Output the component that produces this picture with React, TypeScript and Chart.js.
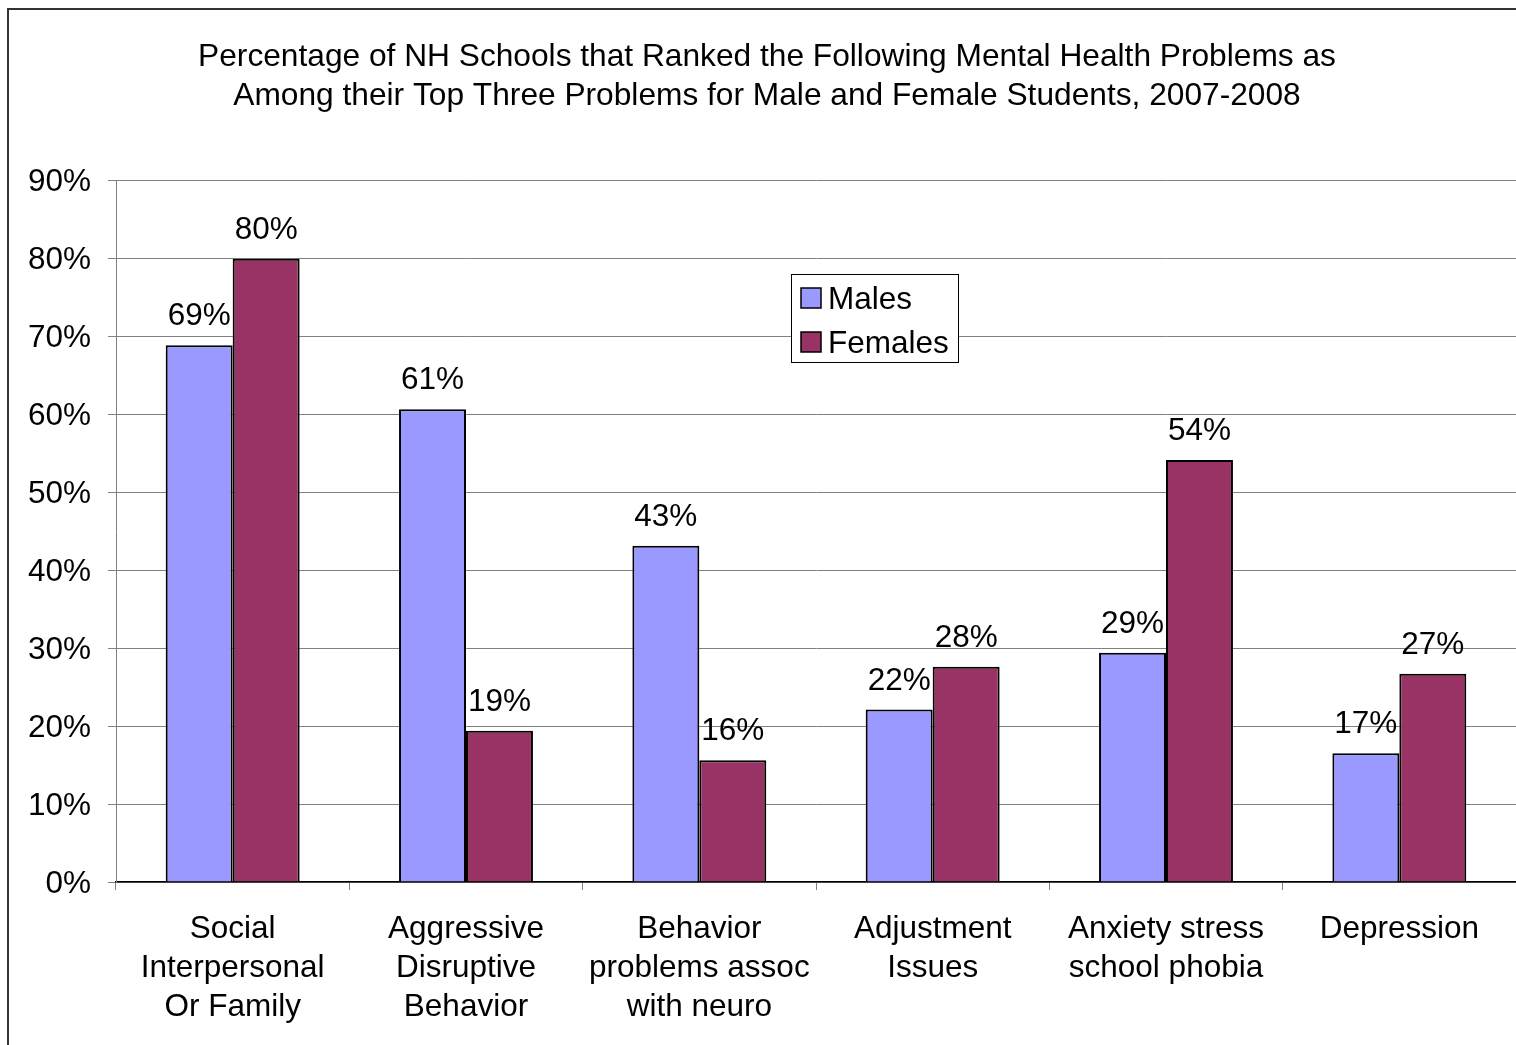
import React, { useEffect, useRef } from "react";
import { Chart, registerables } from "chart.js";

Chart.register(...registerables);

const titleLines = [
  "Percentage of NH Schools that Ranked the Following Mental Health Problems as",
  "Among their Top Three Problems for Male and Female Students, 2007-2008",
];
const categories = [
  ["Social", "Interpersonal", "Or Family"],
  ["Aggressive", "Disruptive", "Behavior"],
  ["Behavior", "problems assoc", "with neuro"],
  ["Adjustment", "Issues"],
  ["Anxiety stress", "school phobia"],
  ["Depression"],
];
const seriesNames = ["Males", "Females"];
const males = [68.8, 60.6, 43.1, 22.1, 29.4, 16.5];
const females = [79.9, 19.4, 15.6, 27.6, 54.1, 26.7];
const seriesColors = ["#9999FF", "#993366"];
const yMin = 0;
const yMax = 90;
const yStep = 10;

const FONT = "'Liberation Sans', Arial, sans-serif";
const FS = 31.5;
const TITLE_FS = 31.7;
const PAD_LEFT = 18;

const dataLabelPlugin = {
  id: "dataLabels",
  afterDatasetsDraw(chart: any) {
    const ctx = chart.ctx;
    ctx.save();
    ctx.font = `${FS}px ${FONT}`;
    ctx.fillStyle = "#000";
    ctx.textAlign = "center";
    ctx.textBaseline = "alphabetic";
    chart.data.datasets.forEach((ds: any, di: number) => {
      const meta = chart.getDatasetMeta(di);
      meta.data.forEach((bar: any, i: number) => {
        const v = ds.data[i];
        ctx.fillText(`${Math.round(v)}%`, bar.x, bar.y - 20);
      });
    });
    ctx.restore();
  },
};

const boxLegendPlugin = {
  id: "boxLegend",
  afterDraw(chart: any) {
    const ctx = chart.ctx;
    const area = chart.chartArea;
    const left = area.left + 675;
    const top = area.top + 94;
    const w = 167;
    const h = 88;
    ctx.save();
    ctx.fillStyle = "#fff";
    ctx.fillRect(left, top, w, h);
    ctx.strokeStyle = "#000";
    ctx.lineWidth = 1;
    ctx.strokeRect(left + 0.5, top + 0.5, w, h);
    ctx.font = `${FS}px ${FONT}`;
    ctx.textBaseline = "middle";
    ctx.textAlign = "left";
    chart.data.datasets.forEach((ds: any, i: number) => {
      const sy = top + 14 + i * 44;
      ctx.fillStyle = ds.backgroundColor;
      ctx.fillRect(left + 10, sy, 20, 20);
      ctx.strokeStyle = "#000";
      ctx.lineWidth = 1.5;
      ctx.strokeRect(left + 10, sy, 20, 20);
      ctx.fillStyle = "#000";
      ctx.fillText(ds.label, left + 37, sy + 12);
    });
    ctx.restore();
  },
};

export default function App() {
  const ref = useRef<HTMLCanvasElement | null>(null);

  useEffect(() => {
    if (!ref.current) return;
    const chart = new Chart(ref.current, {
      type: "bar",
      data: {
        labels: categories,
        datasets: [
          {
            label: seriesNames[0],
            data: males,
            backgroundColor: seriesColors[0],
            borderColor: "#000",
            borderWidth: 2,
            categoryPercentage: 0.574,
            barPercentage: 1,
          },
          {
            label: seriesNames[1],
            data: females,
            backgroundColor: seriesColors[1],
            borderColor: "#000",
            borderWidth: 2,
            categoryPercentage: 0.574,
            barPercentage: 1,
          },
        ],
      },
      options: {
        responsive: false,
        animation: false,
        devicePixelRatio: 1,
        layout: { padding: { left: PAD_LEFT, right: 0, top: 0, bottom: 0 } },
        plugins: {
          legend: { display: false },
          tooltip: { enabled: false },
          title: {
            display: true,
            text: titleLines,
            color: "#000",
            font: { family: FONT, size: TITLE_FS, weight: "normal", lineHeight: 39 / TITLE_FS },
            padding: { top: 37.5, bottom: 64.5 },
          },
        },
        scales: {
          x: {
            grid: {
              offset: true,
              drawOnChartArea: false,
              drawTicks: true,
              tickLength: 8,
              color: "#808080",
              lineWidth: 1,
            },
            border: { display: true, color: "#000", width: 1.5 },
            ticks: {
              color: "#000",
              font: { family: FONT, size: FS, lineHeight: 39 / FS },
              padding: 19.5,
              maxRotation: 0,
              autoSkip: false,
            },
            afterFit(scale: any) {
              scale.height = 163;
            },
          },
          y: {
            min: yMin,
            max: yMax,
            ticks: {
              stepSize: yStep,
              color: "#000",
              font: { family: FONT, size: FS },
              padding: 17,
              labelOffset: 2,
              callback: (v: any) => `${v}%`,
            },
            grid: {
              color: "#808080",
              lineWidth: 1,
              tickLength: 8,
            },
            border: { display: true, color: "#808080", width: 1 },
            afterFit(scale: any) {
              scale.width = 116 - PAD_LEFT;
            },
          },
        },
      },
      plugins: [dataLabelPlugin, boxLegendPlugin],
    });
    return () => chart.destroy();
  }, []);

  return (
    <div
      style={{
        position: "fixed",
        left: 0,
        top: 0,
        width: 1516,
        height: 1045,
        overflow: "hidden",
        background: "#fff",
      }}
    >
      <div
        style={{
          position: "absolute",
          left: 7,
          top: 8,
          width: 1600,
          height: 1100,
          borderTop: "2px solid #333",
          borderLeft: "2px solid #333",
        }}
      />
      <canvas
        ref={ref}
        width={1516}
        height={1045}
        style={{ position: "absolute", left: 0, top: 0, width: 1516, height: 1045 }}
      />
    </div>
  );
}
